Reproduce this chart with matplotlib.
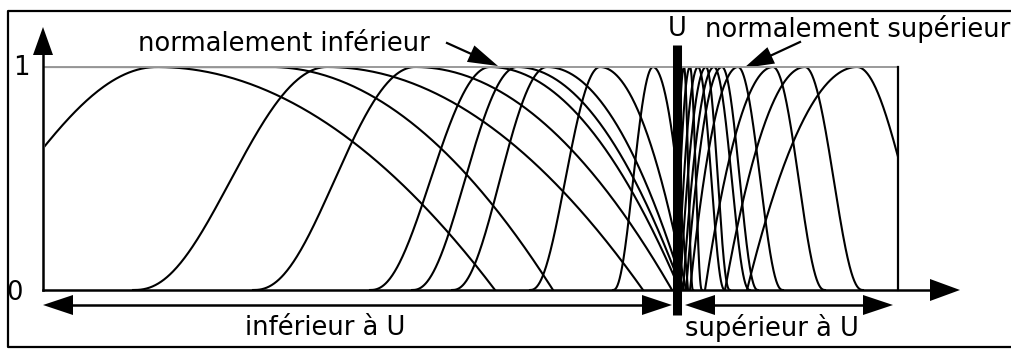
import numpy as np
import matplotlib
matplotlib.use("Agg")
from matplotlib import pyplot as plt
from matplotlib.patches import Polygon

W, H, DPI = 1011, 349, 100

# box of the membership plot, in pixel units of the picture
box_left, box_right = 45, 898
box_top, box_bottom = 67, 290
u_pos = 677

# curves below U: rising foot, peak, falling foot
low_feet_left = [-123, 133, 253, 370, 412, 452, 530, 613]
low_peaks = [157, 327, 415, 490, 517, 547, 600, 653]
low_feet_right = [495, 643, 672, 680, 682, 684, 686, 688]

# shoulder curve: 1 up to its end, then falls to the foot
shoulder_end = 270
shoulder_foot = 553

# curves above U: rising foot, peak, falling foot
high_feet_left = [675, 676, 678, 680, 683, 686, 690, 705, 725, 747]
high_peaks = [684, 690, 698, 706, 714, 722, 738, 773, 805, 857]
high_feet_right = [693, 702, 725, 730, 750, 758, 783, 825, 863, 952]

fig = plt.figure(figsize=(W / DPI, H / DPI), dpi=DPI)

# plot axes placed on the box
ax = fig.add_axes([box_left / W, 1 - box_bottom / H,
                   (box_right - box_left) / W, (box_bottom - box_top) / H])
ax.set_xlim(box_left, box_right)
ax.set_ylim(0, 1)
ax.axis("off")

lw = 1.5
k = 2.5  # shape of the far side of each curve


def far_side(x0, p):
    # side away from U: flat foot, fairly sharp top
    x = np.linspace(x0, p, 200)
    t = (x - p) / (x0 - p)
    return x, np.clip(1 - t ** 2, 0, 1) ** k


def near_side(p, x1):
    # side towards U: plain parabola
    x = np.linspace(p, x1, 200)
    t = (x - p) / (x1 - p)
    return x, 1 - t ** 2


for a, p, b in zip(low_feet_left, low_peaks, low_feet_right):
    x1, y1 = far_side(a, p)
    x2, y2 = near_side(p, b)
    ax.plot(np.r_[x1, x2], np.r_[y1, y2], color="black", lw=lw)

xs, ys = near_side(shoulder_end, shoulder_foot)
ax.plot(np.r_[box_left, xs], np.r_[1, ys], color="black", lw=lw)

for a, p, b in zip(high_feet_left, high_peaks, high_feet_right):
    x1, y1 = near_side(p, a)
    x2, y2 = far_side(b, p)
    ax.plot(np.r_[x1[::-1], x2[::-1]], np.r_[y1[::-1], y2[::-1]], color="black", lw=lw)

# overlay in pixel coordinates for frame, arrows and labels
ov = fig.add_axes([0, 0, 1, 1], zorder=5)
ov.set_xlim(0, W)
ov.set_ylim(H, 0)
ov.axis("off")
ov.patch.set_alpha(0)


def head(tip, d, length=30, half=10):
    d = np.asarray(d, float)
    d = d / np.hypot(*d)
    n = np.array([-d[1], d[0]])
    tip = np.asarray(tip, float)
    base = tip - d * length
    ov.add_patch(Polygon([tip, base + n * half, base - n * half],
                         closed=True, color="black", lw=0))
    return base


# outer frame, its right side is past the picture edge
ov.plot([1020, 8, 8, 1020], [11, 11, 347, 347], color="black", lw=1.6)

# box top and right edges
ov.plot([box_left, box_right], [box_top, box_top], color="#9a9a9a", lw=1.4)
ov.plot([box_right, box_right], [box_top, box_bottom], color="black", lw=1.6)

# axes arrows
base = head((43, 27), (0, -1), 28, 10)
ov.plot([43, 43], [box_bottom, base[1]], color="black", lw=1.8)
base = head((960, box_bottom), (1, 0), 30, 11)
ov.plot([43, base[0]], [box_bottom, box_bottom], color="black", lw=1.8)

# ranges below the axis
yb = 305
b1 = head((43, yb), (-1, 0), 30, 10)
b2 = head((672, yb), (1, 0), 30, 10)
ov.plot([b1[0], b2[0]], [yb, yb], color="black", lw=1.8)
b1 = head((685, yb), (-1, 0), 30, 10)
b2 = head((893, yb), (1, 0), 30, 10)
ov.plot([b1[0], b2[0]], [yb, yb], color="black", lw=1.8)

# U bar
ov.plot([u_pos, u_pos], [45, 315], color="black", lw=6.5, solid_capstyle="butt")

# pointers
base = head((498, 66), (498 - 447, 66 - 43), 30, 9)
ov.plot([447, base[0]], [43, base[1]], color="black", lw=1.6)
base = head((744, 68), (744 - 800, 68 - 42), 30, 9)
ov.plot([800, base[0]], [42, base[1]], color="black", lw=1.6)

fs = 18.5
font = "DejaVu Sans"
ov.text(21, 68, "1", fontsize=fs, family=font, ha="center", va="center")
ov.text(15, 293, "0", fontsize=fs, family=font, ha="center", va="center")
ov.text(138, 44, "normalement inférieur", fontsize=fs, family=font, ha="left", va="center")
ov.text(u_pos, 29, "U", fontsize=fs, family=font, ha="center", va="center")
ov.text(705, 29, "normalement supérieur", fontsize=fs, family=font, ha="left", va="center")
ov.text(325, 328, "inférieur à U", fontsize=fs, family=font, ha="center", va="center")
ov.text(772, 328, "supérieur à U", fontsize=fs, family=font, ha="center", va="center")

fig.savefig("out.png", dpi=DPI, facecolor="white")
